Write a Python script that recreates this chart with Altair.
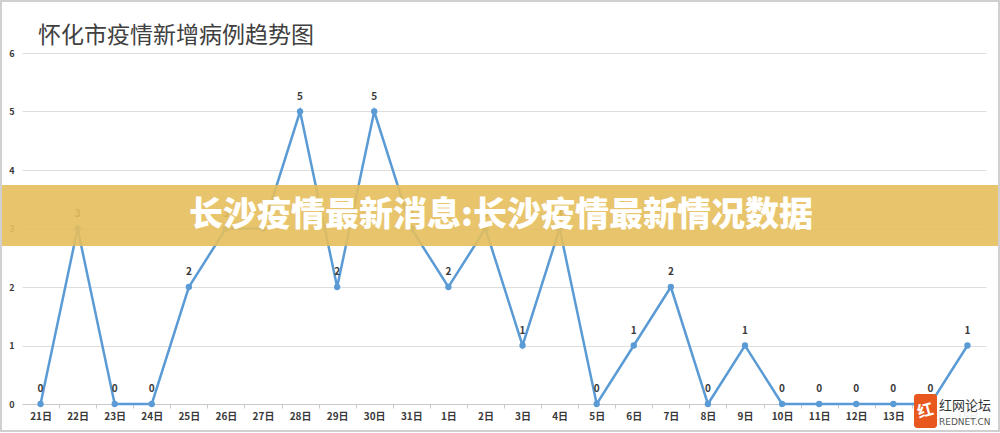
import altair as alt
import pandas as pd

days = ["21日", "22日", "23日", "24日", "25日", "26日", "27日", "28日", "29日", "30日",
        "31日", "1日", "2日", "3日", "4日", "5日", "6日", "7日", "8日", "9日",
        "10日", "11日", "12日", "13日", "14日", "15日"]
cases = [0, 3, 0, 0, 2, 3, 3, 5, 2, 5, 3, 2, 3, 1, 3, 0, 1, 2, 0, 1, 0, 0, 0, 0, 0, 1]
y_ticks = [0, 1, 2, 3, 4, 5, 6]
title_text = "怀化市疫情新增病例趋势图"
banner_text = "长沙疫情最新消息:长沙疫情最新情况数据"
mark_cn = "红网论坛"
mark_en = "REDNET.CN"

W, H = 964, 351
L, T, R, B = 22, 53, 14, 29
FONT = "Noto Sans CJK SC"
half = W / len(days) / 2

df = pd.DataFrame({"day": days, "cases": cases})

x = alt.X("day:N", sort=days, title=None,
          scale=alt.Scale(type="point", padding=0.5),
          axis=alt.Axis(labelAngle=0, labelFontSize=10, labelFontWeight="bold",
                        labelColor="#3a3a3a", labelFont=FONT, domainColor="#c8c8c8",
                        tickColor="#c8c8c8", tickSize=4, tickOffset=half, labelOffset=-half,
                        labelPadding=3, grid=False))
y = alt.Y("cases:Q", title=None,
          scale=alt.Scale(domain=[0, 6], nice=False, zero=True),
          axis=alt.Axis(values=y_ticks, format="d", labelFontSize=9, labelFontWeight="bold",
                        labelColor="#3a3a3a", labelFont=FONT, domain=False, ticks=False,
                        labelPadding=8, gridColor="#dedede", gridWidth=1))

base = alt.Chart(df).encode(x=x, y=y)
line = base.mark_line(color="#5B9BD5", strokeWidth=2.5)
pts = base.mark_circle(color="#5B9BD5", size=40, opacity=1)
labels = base.mark_text(dy=-15, fontSize=10, fontWeight="bold", color="#3a3a3a",
                        font=FONT).encode(text="cases:Q")

one = pd.DataFrame({"t": [banner_text], "title": [title_text]})
title = alt.Chart(one).mark_text(color="#404040", fontSize=23, font=FONT, align="left",
                                 baseline="alphabetic").encode(
    x=alt.value(38 - L), y=alt.value(43 - T), text="title:N")
banner = alt.Chart(one).mark_rect(color="#E6BF5C", opacity=0.9).encode(
    x=alt.value(-L), x2=alt.value(W + R), y=alt.value(185 - T), y2=alt.value(246 - T))
banner_txt = alt.Chart(one).mark_text(color="white", fontSize=34, fontWeight=900,
                                      font=FONT, align="center", baseline="middle").encode(
    x=alt.value(501 - L), y=alt.value(216 - T), text="t:N")

wm = pd.DataFrame({"cn": [mark_cn], "en": [mark_en], "g": ["红"]})
wm_bg = alt.Chart(wm).mark_rect(color="white", opacity=0.92).encode(
    x=alt.value(937 - L), x2=alt.value(994 - L), y=alt.value(396 - T), y2=alt.value(429 - T))
logo = alt.Chart(wm).mark_rect(color="#E8581E", cornerRadius=3).encode(
    x=alt.value(914 - L), x2=alt.value(937 - L), y=alt.value(394 - T), y2=alt.value(428 - T))
logo_g = alt.Chart(wm).mark_text(color="white", fontSize=16, fontWeight="bold", font=FONT,
                                 align="center", baseline="middle", angle=345).encode(
    x=alt.value(925.5 - L), y=alt.value(411 - T), text="g:N")
wm_cn = alt.Chart(wm).mark_text(color="#333333", fontSize=13, font=FONT, align="left",
                                baseline="middle").encode(
    x=alt.value(939 - L), y=alt.value(406 - T), text="cn:N")
wm_en = alt.Chart(wm).mark_text(color="#555555", fontSize=9, font="DejaVu Sans", align="left",
                                baseline="middle").encode(
    x=alt.value(939 - L), y=alt.value(422 - T), text="en:N")

frame = alt.Chart(one).mark_rect(fill=None, stroke="#d0d0d0", strokeWidth=2).encode(
    x=alt.value(-L + 1), x2=alt.value(W + R - 1), y=alt.value(-T + 1), y2=alt.value(H + B - 2))

chart = alt.layer(line, pts, labels, title, banner, banner_txt, wm_bg, logo, logo_g, wm_cn,
                  wm_en, frame).properties(
    width=W, height=H,
    autosize=alt.AutoSizeParams(type="none"),
    padding={"left": L, "top": T, "right": R, "bottom": B},
    background="white",
).configure_view(stroke=None)

chart.save("out.html", embed_options={"renderer": "svg", "actions": False})
